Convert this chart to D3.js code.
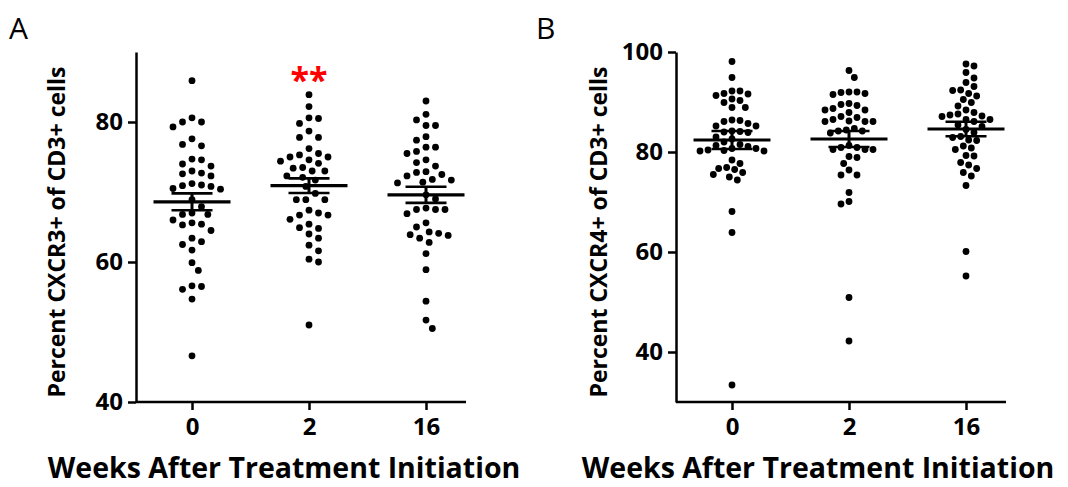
<!doctype html>
<html>
<head>
    <script src="https://d3js.org/d3.v7.min.js"></script>
    <style>
        body { margin: 0; background: #fff; }
        text { font-family: "Open Sans", "DejaVu Sans", sans-serif; }
    </style>
</head>
<body>

    <svg width="1068" height="487"></svg>

    <script>
        // categories (weeks)
        var weeks = ["0", "2", "16"];

        // Panel A - CXCR3+ values
        var cxcr3Wk0 = [85.9, 80.6, 80.0, 79.3, 80.0, 77.6, 76.6, 76.8, 74.7, 74.6, 73.7, 74.0, 72.7, 72.3, 72.6, 73.0,
            71.0, 70.8, 70.5, 70.4, 70.9, 71.2, 68.9, 67.9, 66.8, 67.0, 66.8, 66.0, 65.6, 65.3, 65.4, 64.5,
            62.9, 63.4, 62.5, 61.7, 59.9, 58.8, 56.5, 56.1, 56.6, 54.7, 46.6];
        var cxcr3Wk2 = [83.9, 82.2, 80.6, 80.5, 79.8, 78.7, 77.8, 77.8, 76.2, 75.3, 75.0, 75.0, 75.5, 74.6, 74.4, 74.1,
            73.5, 73.0, 73.0, 73.4, 72.1, 72.3, 71.7, 70.8, 69.8, 68.9, 68.9, 68.9, 67.4, 66.7, 66.1, 66.7,
            67.0, 65.4, 64.8, 64.0, 64.9, 63.4, 62.4, 61.6, 60.4, 60.0, 51.0];
        var cxcr3Wk16 = [83.0, 81.1, 80.3, 79.5, 79.5, 77.9, 77.4, 75.8, 76.4, 76.4, 75.5, 73.7, 74.6, 74.2, 72.8, 72.3,
            72.9, 71.7, 71.3, 71.4, 71.8, 72.5, 69.0, 69.6, 67.7, 67.5, 66.9, 67.5, 67.5, 65.6, 65.0, 64.3,
            63.9, 63.4, 63.8, 64.1, 62.8, 61.2, 58.9, 54.4, 51.7, 50.5];
        var cxcr3Mean = [68.6, 70.9, 69.6];
        var cxcr3Sem = [1.2, 1.05, 1.15];

        // Panel B - CXCR4+ values
        var cxcr4Wk0 = [98.1, 94.9, 92.2, 91.7, 90.6, 89.9, 91.3, 91.6, 92.2, 90.3, 88.9, 88.9, 86.3, 85.7, 85.2, 85.2,
            86.1, 86.4, 83.9, 84.0, 84.2, 84.1, 83.0, 82.6, 81.5, 81.1, 82.0, 81.3, 80.7, 80.2, 80.3, 80.2,
            80.4, 80.7, 78.4, 77.7, 76.9, 76.5, 75.5, 75.0, 75.9, 76.7, 74.4, 68.1, 63.9, 33.4];
        var cxcr4Wk2 = [96.3, 94.9, 92.0, 91.7, 91.5, 91.9, 92.0, 89.7, 89.3, 88.4, 88.4, 88.7, 89.5, 87.9, 87.1, 86.5,
            86.1, 86.1, 86.1, 86.2, 86.9, 84.4, 84.2, 83.8, 84.2, 84.7, 80.9, 80.5, 80.5, 80.5, 80.9, 81.3,
            78.9, 79.1, 77.7, 76.4, 75.4, 75.4, 71.9, 69.6, 70.1, 50.9, 42.2];
        var cxcr4Wk16 = [97.6, 97.2, 95.9, 94.8, 93.9, 92.4, 92.3, 93.1, 91.7, 91.2, 90.5, 89.9, 89.2, 88.4, 87.6, 87.2,
            87.1, 87.4, 87.9, 86.5, 86.1, 86.5, 85.4, 84.5, 85.1, 83.9, 83.1, 82.4, 82.3, 82.9, 81.2, 80.5,
            79.2, 79.3, 80.8, 77.9, 76.7, 75.2, 75.9, 77.4, 73.3, 60.1, 55.2];
        var cxcr4Mean = [82.4, 82.6, 84.6];
        var cxcr4Sem = [1.8, 1.6, 1.45];

        var cxcr3Ticks = [40, 60, 80];
        var cxcr4Ticks = [40, 60, 80, 100];

        var svg = d3.select("svg");
        var yTop = 52, yBottom = 402;

        // simple beeswarm: place dots from top to bottom, nearest free spot to the centre
        function swarm(vals, y, dist) {
            var pts = vals.map(v => ({ v: v, y: y(v), dx: 0 })).sort((a, b) => a.y - b.y);
            var placed = [];
            pts.forEach(function (p, i) {
                var step = dist / 3;
                for (var k = 0; k < 60; k++) {
                    var cands = k === 0 ? [0] : (i % 2 ? [k * step, -k * step] : [-k * step, k * step]);
                    var ok = cands.find(dx => placed.every(q => Math.hypot(q.dx - dx, q.y - p.y) >= dist));
                    if (ok !== undefined) { p.dx = ok; break; }
                }
                placed.push(p);
            });
            return pts;
        }

        function panel(opt) {
            var x = d3.scalePoint().domain(weeks).range([opt.x0 + 56, opt.x0 + 290]);
            var y = d3.scaleLinear().domain(opt.domain).range([yBottom, yTop]);
            var g = svg.append("g");

            // y axis
            var yAx = g.append("g").attr("transform", "translate(" + opt.x0 + ",0)")
                .call(d3.axisLeft(y).tickValues(opt.ticks).tickSize(8).tickPadding(5).tickSizeOuter(0));
            yAx.select(".domain").attr("stroke-width", 2.5);
            yAx.selectAll(".tick line").attr("stroke-width", 2.5);
            yAx.selectAll(".tick text").attr("font-size", 24).attr("font-weight", 700).attr("fill", "#000");

            // x axis (line drawn separately so it can run past the last group)
            var xAx = g.append("g").attr("transform", "translate(0," + yBottom + ")")
                .call(d3.axisBottom(x).tickSize(8).tickPadding(8));
            xAx.select(".domain").remove();
            xAx.append("line").attr("x1", opt.x0).attr("x2", opt.x0 + 330)
                .attr("stroke", "#000").attr("stroke-width", 2.5);
            xAx.selectAll(".tick line").attr("stroke-width", 2.5);
            xAx.selectAll(".tick text").attr("font-size", 24).attr("font-weight", 700).attr("fill", "#000");

            // dots
            opt.series.forEach(function (vals, i) {
                var cx = x(weeks[i]);
                g.append("g").selectAll("circle")
                    .data(swarm(vals, y, opt.dist))
                    .enter().append("circle")
                    .attr("cx", d => cx + d.dx)
                    .attr("cy", d => d.y)
                    .attr("r", 3.4)
                    .attr("fill", "#000");

                // mean +/- SEM
                var m = opt.mean[i], s = opt.sem[i];
                g.append("line").attr("x1", cx - 38.5).attr("x2", cx + 38.5)
                    .attr("y1", y(m)).attr("y2", y(m)).attr("stroke", "#000").attr("stroke-width", 3.2);
                g.append("line").attr("x1", cx).attr("x2", cx)
                    .attr("y1", y(m + s)).attr("y2", y(m - s)).attr("stroke", "#000").attr("stroke-width", 3);
                [m + s, m - s].forEach(function (e) {
                    g.append("line").attr("x1", cx - 20.5).attr("x2", cx + 20.5)
                        .attr("y1", y(e)).attr("y2", y(e)).attr("stroke", "#000").attr("stroke-width", 2.6);
                });
            });

            // labels
            g.append("text")
                .attr("transform", "translate(" + opt.yLabelX + "," + ((yTop + yBottom) / 2 + 5) + ") rotate(-90)")
                .attr("text-anchor", "middle")
                .attr("font-size", 23).attr("font-weight", 700)
                .text(opt.yLabel);
            g.append("text")
                .attr("x", opt.xLabelX).attr("y", 478)
                .attr("text-anchor", "middle")
                .attr("font-size", 28.5).attr("font-weight", 700)
                .text("Weeks After Treatment Initiation");
            g.append("text")
                .attr("x", opt.letterX).attr("y", 39)
                .attr("font-size", 30)
                .text(opt.letter);
            return { x: x, y: y };
        }

        var a = panel({
            x0: 136, domain: [40, 90], ticks: cxcr3Ticks, dist: 9.5,
            series: [cxcr3Wk0, cxcr3Wk2, cxcr3Wk16], mean: cxcr3Mean, sem: cxcr3Sem,
            yLabel: "Percent CXCR3+ of CD3+ cells", yLabelX: 65, xLabelX: 284, letter: "A", letterX: 9
        });
        panel({
            x0: 676, domain: [30, 100], ticks: cxcr4Ticks, dist: 8,
            series: [cxcr4Wk0, cxcr4Wk2, cxcr4Wk16], mean: cxcr4Mean, sem: cxcr4Sem,
            yLabel: "Percent CXCR4+ of CD3+ cells", yLabelX: 607, xLabelX: 818, letter: "B", letterX: 536
        });

        // significance marker above week 2
        svg.append("text")
            .attr("x", a.x("2")).attr("y", 92)
            .attr("text-anchor", "middle")
            .attr("font-size", 34).attr("font-weight", 700)
            .attr("fill", "#ff0000")
            .text("**");
    </script>
</body>
</html>
